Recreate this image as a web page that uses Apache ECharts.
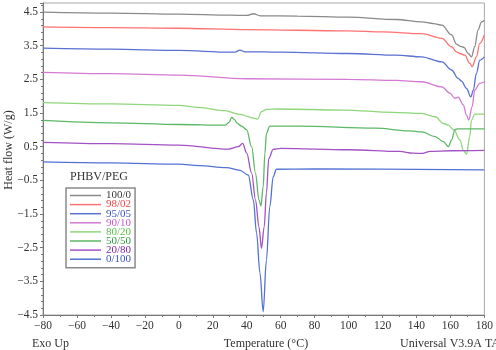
<!DOCTYPE html>
<html>
<head>
<meta charset="utf-8">
<script src="https://cdn.jsdelivr.net/npm/echarts@6/dist/echarts.min.js"></script>
<style>
  html, body { margin: 0; padding: 0; background: #fff; }
  #chart { width: 496px; height: 350px; }
</style>
</head>
<body>
<div id="chart"></div>
<script>
// DSC heating curves, [temperature (°C), heat flow (W/g)]
const blend100_0 = [[-80, 4.50], [-40, 4.47], [0, 4.44], [30, 4.41], [40, 4.40], [44, 4.45], [48, 4.39], [70, 4.38], [100, 4.35], [128, 4.28], [143, 4.21], [150, 4.16], [155, 4.11], [160.7, 3.82], [163.5, 3.55], [166, 3.48], [168, 3.45], [170.5, 3.27], [172.4, 3.17], [174.3, 3.47], [176.3, 3.97], [178.3, 4.21], [180, 4.26]]
const blend98_02 = [[-80, 4.06], [-40, 4.04], [0, 4.02], [40, 3.98], [100, 3.94], [120, 3.91], [143, 3.86], [155, 3.72], [160.7, 3.47], [163.7, 3.32], [165.6, 3.27], [168.5, 3.22], [171.4, 2.98], [172.8, 2.88], [175.3, 3.17], [177.3, 3.57], [180, 3.82]]
const blend95_05 = [[-80, 3.43], [-40, 3.40], [0, 3.36], [30, 3.31], [33, 3.31], [36, 3.37], [39, 3.32], [60, 3.31], [100, 3.27], [128, 3.22], [143, 3.17], [155, 3.02], [160.7, 2.78], [164.6, 2.53], [166.5, 2.45], [169.5, 2.23], [172, 1.98], [173.5, 2.18], [175.3, 2.68], [177.3, 3.07], [180, 3.17]]
const blend90_10 = [[-80, 2.71], [-40, 2.67], [0, 2.63], [40, 2.52], [100, 2.50], [128, 2.47], [143, 2.43], [155, 2.28], [159.7, 2.09], [162.6, 1.94], [164.6, 1.97], [167.6, 1.74], [169.5, 1.44], [170.8, 1.29], [172.8, 1.69], [174.3, 2.18], [177.3, 2.38], [180, 2.43]]
const blend80_20 = [[-80, 1.81], [-40, 1.77], [0, 1.73], [11.7, 1.67], [27.3, 1.57], [35.1, 1.47], [44.9, 1.34], [46.4, 1.32], [48.7, 1.54], [51.6, 1.61], [58, 1.62], [97, 1.59], [126, 1.52], [143, 1.49], [151, 1.39], [155.9, 1.19], [158.8, 1.14], [162, 1.00], [165.6, 0.70], [167.6, 0.40], [169.5, 0.28], [171.4, 0.80], [172.4, 1.29], [174.3, 1.47], [180, 1.47]]
const blend50_50 = [[-80, 1.28], [-40, 1.21], [0, 1.16], [27.3, 1.14], [29.5, 1.22], [31.2, 1.37], [33, 1.30], [34.1, 1.21], [37, 1.11], [40, 1.00], [42.9, 0.50], [45.2, -0.29], [47.2, -1.08], [48.4, -1.26], [49.7, -0.69], [50.7, 0.30], [51.6, 0.90], [53.6, 1.11], [70, 1.11], [116, 1.05], [136, 0.97], [143, 0.94], [151, 0.80], [155.9, 0.65], [158.8, 0.50], [160.7, 0.70], [162.6, 1.00], [164, 1.03], [180, 1.03]]
const blend20_80 = [[-80, 0.63], [-40, 0.59], [0, 0.55], [29.3, 0.43], [35.1, 0.50], [37.6, 0.60], [40, 0.31], [42.9, -0.28], [45.2, -1.08], [47.2, -1.88], [48.7, -2.52], [50.3, -1.88], [51.6, -0.88], [53, 0.15], [55.6, 0.42], [60, 0.45], [100, 0.41], [130, 0.36], [138, 0.31], [143.5, 0.30], [148, 0.36], [160, 0.38], [180, 0.39]]
const blend0_100 = [[-80, 0.05], [-40, 0.02], [0, -0.02], [12, -0.06], [28, -0.12], [36, -0.20], [40.9, -0.34], [43.9, -1.08], [45.8, -2.06], [47.8, -3.25], [49.7, -4.40], [51.6, -2.87], [53.6, -1.28], [55.6, -0.39], [57.5, -0.17], [80, -0.16], [180, -0.19]]

const seriesNames = ['100/0', '98/02', '95/05', '90/10', '80/20', '50/50', '20/80', '0/100']
const seriesData = [blend100_0, blend98_02, blend95_05, blend90_10, blend80_20, blend50_50, blend20_80, blend0_100]
const lineColors = ['#8a8a8a', '#ff7272', '#5a70d2', '#d47ad4', '#8fd67c', '#5cb866', '#a352c4', '#5272d4']
const textColors = ['#3a3a3a', '#f04848', '#3b55c4', '#cc5acc', '#5cc048', '#2e9a42', '#7a24a8', '#3b55c4']

const serif = '"Liberation Serif", "DejaVu Serif", serif'
const minus = v => String(v).replace('-', '\u2212')

const chart = echarts.init(document.getElementById('chart'))

const option = {
  animation: false,
  grid: {
    left: 43, right: 8, top: 3, bottom: 35,
    show: true, borderColor: '#a8a8a8', borderWidth: 1
  },
  xAxis: {
    type: 'value',
    min: -80, max: 180, interval: 20,
    axisLine: { show: true, onZero: false, lineStyle: { color: '#777', width: 1 } },
    axisTick: { show: true, length: 3, lineStyle: { color: '#777' } },
    minorTick: { show: true, splitNumber: 2, length: 2, lineStyle: { color: '#777' } },
    splitLine: { show: false },
    axisLabel: {
      margin: 5, fontSize: 11.5, color: '#333', fontFamily: serif,
      formatter: v => minus(v)
    }
  },
  yAxis: {
    type: 'value',
    min: -4.5, max: 4.77, interval: 1,
    axisLine: { show: true, onZero: false, lineStyle: { color: '#777', width: 1 } },
    axisTick: { show: true, length: 3, lineStyle: { color: '#777' } },
    minorTick: { show: true, splitNumber: 5, length: 2, lineStyle: { color: '#777' } },
    splitLine: { show: false },
    axisLabel: {
      margin: 5, fontSize: 11.5, color: '#333', fontFamily: serif,
      showMaxLabel: false,
      formatter: v => minus(v.toFixed(1))
    }
  },
  legend: {
    orient: 'vertical',
    left: 66, top: 188,
    padding: [2, 4, 3, 4],
    borderColor: '#8a8a8a', borderWidth: 1.5,
    icon: 'rect',
    itemWidth: 31, itemHeight: 1.5, itemGap: -1.9,
    selectedMode: false,
    textStyle: { fontFamily: serif, fontSize: 11 },
    data: seriesNames.map((n, i) => ({ name: n, textStyle: { color: textColors[i] } }))
  },
  graphic: [
    { type: 'text', left: 70, top: 171, style: { text: 'PHBV/PEG', font: '12px ' + serif, fill: '#333' } },
    { type: 'text', x: 9, y: 150, rotation: Math.PI / 2,
      style: { text: 'Heat flow (W/g)', font: '12px ' + serif, fill: '#333', align: 'center', verticalAlign: 'middle' } },
    { type: 'text', left: 32, top: 338, style: { text: 'Exo Up', font: '12px ' + serif, fill: '#333' } },
    { type: 'text', x: 266, y: 338, style: { text: 'Temperature (°C)', font: '12px ' + serif, fill: '#333', align: 'center' } },
    { type: 'text', x: 400, y: 338, style: { text: 'Universal V3.9A TA', font: '12px ' + serif, fill: '#333' } }
  ],
  series: seriesNames.map((n, i) => ({
    name: n,
    type: 'line',
    data: seriesData[i],
    symbol: 'none',
    smooth: 0.35,
    smoothMonotone: 'x',
    lineStyle: { color: lineColors[i], width: 1.3 },
    itemStyle: { color: lineColors[i] }
  }))
}

chart.setOption(option)
</script>
</body>
</html>
